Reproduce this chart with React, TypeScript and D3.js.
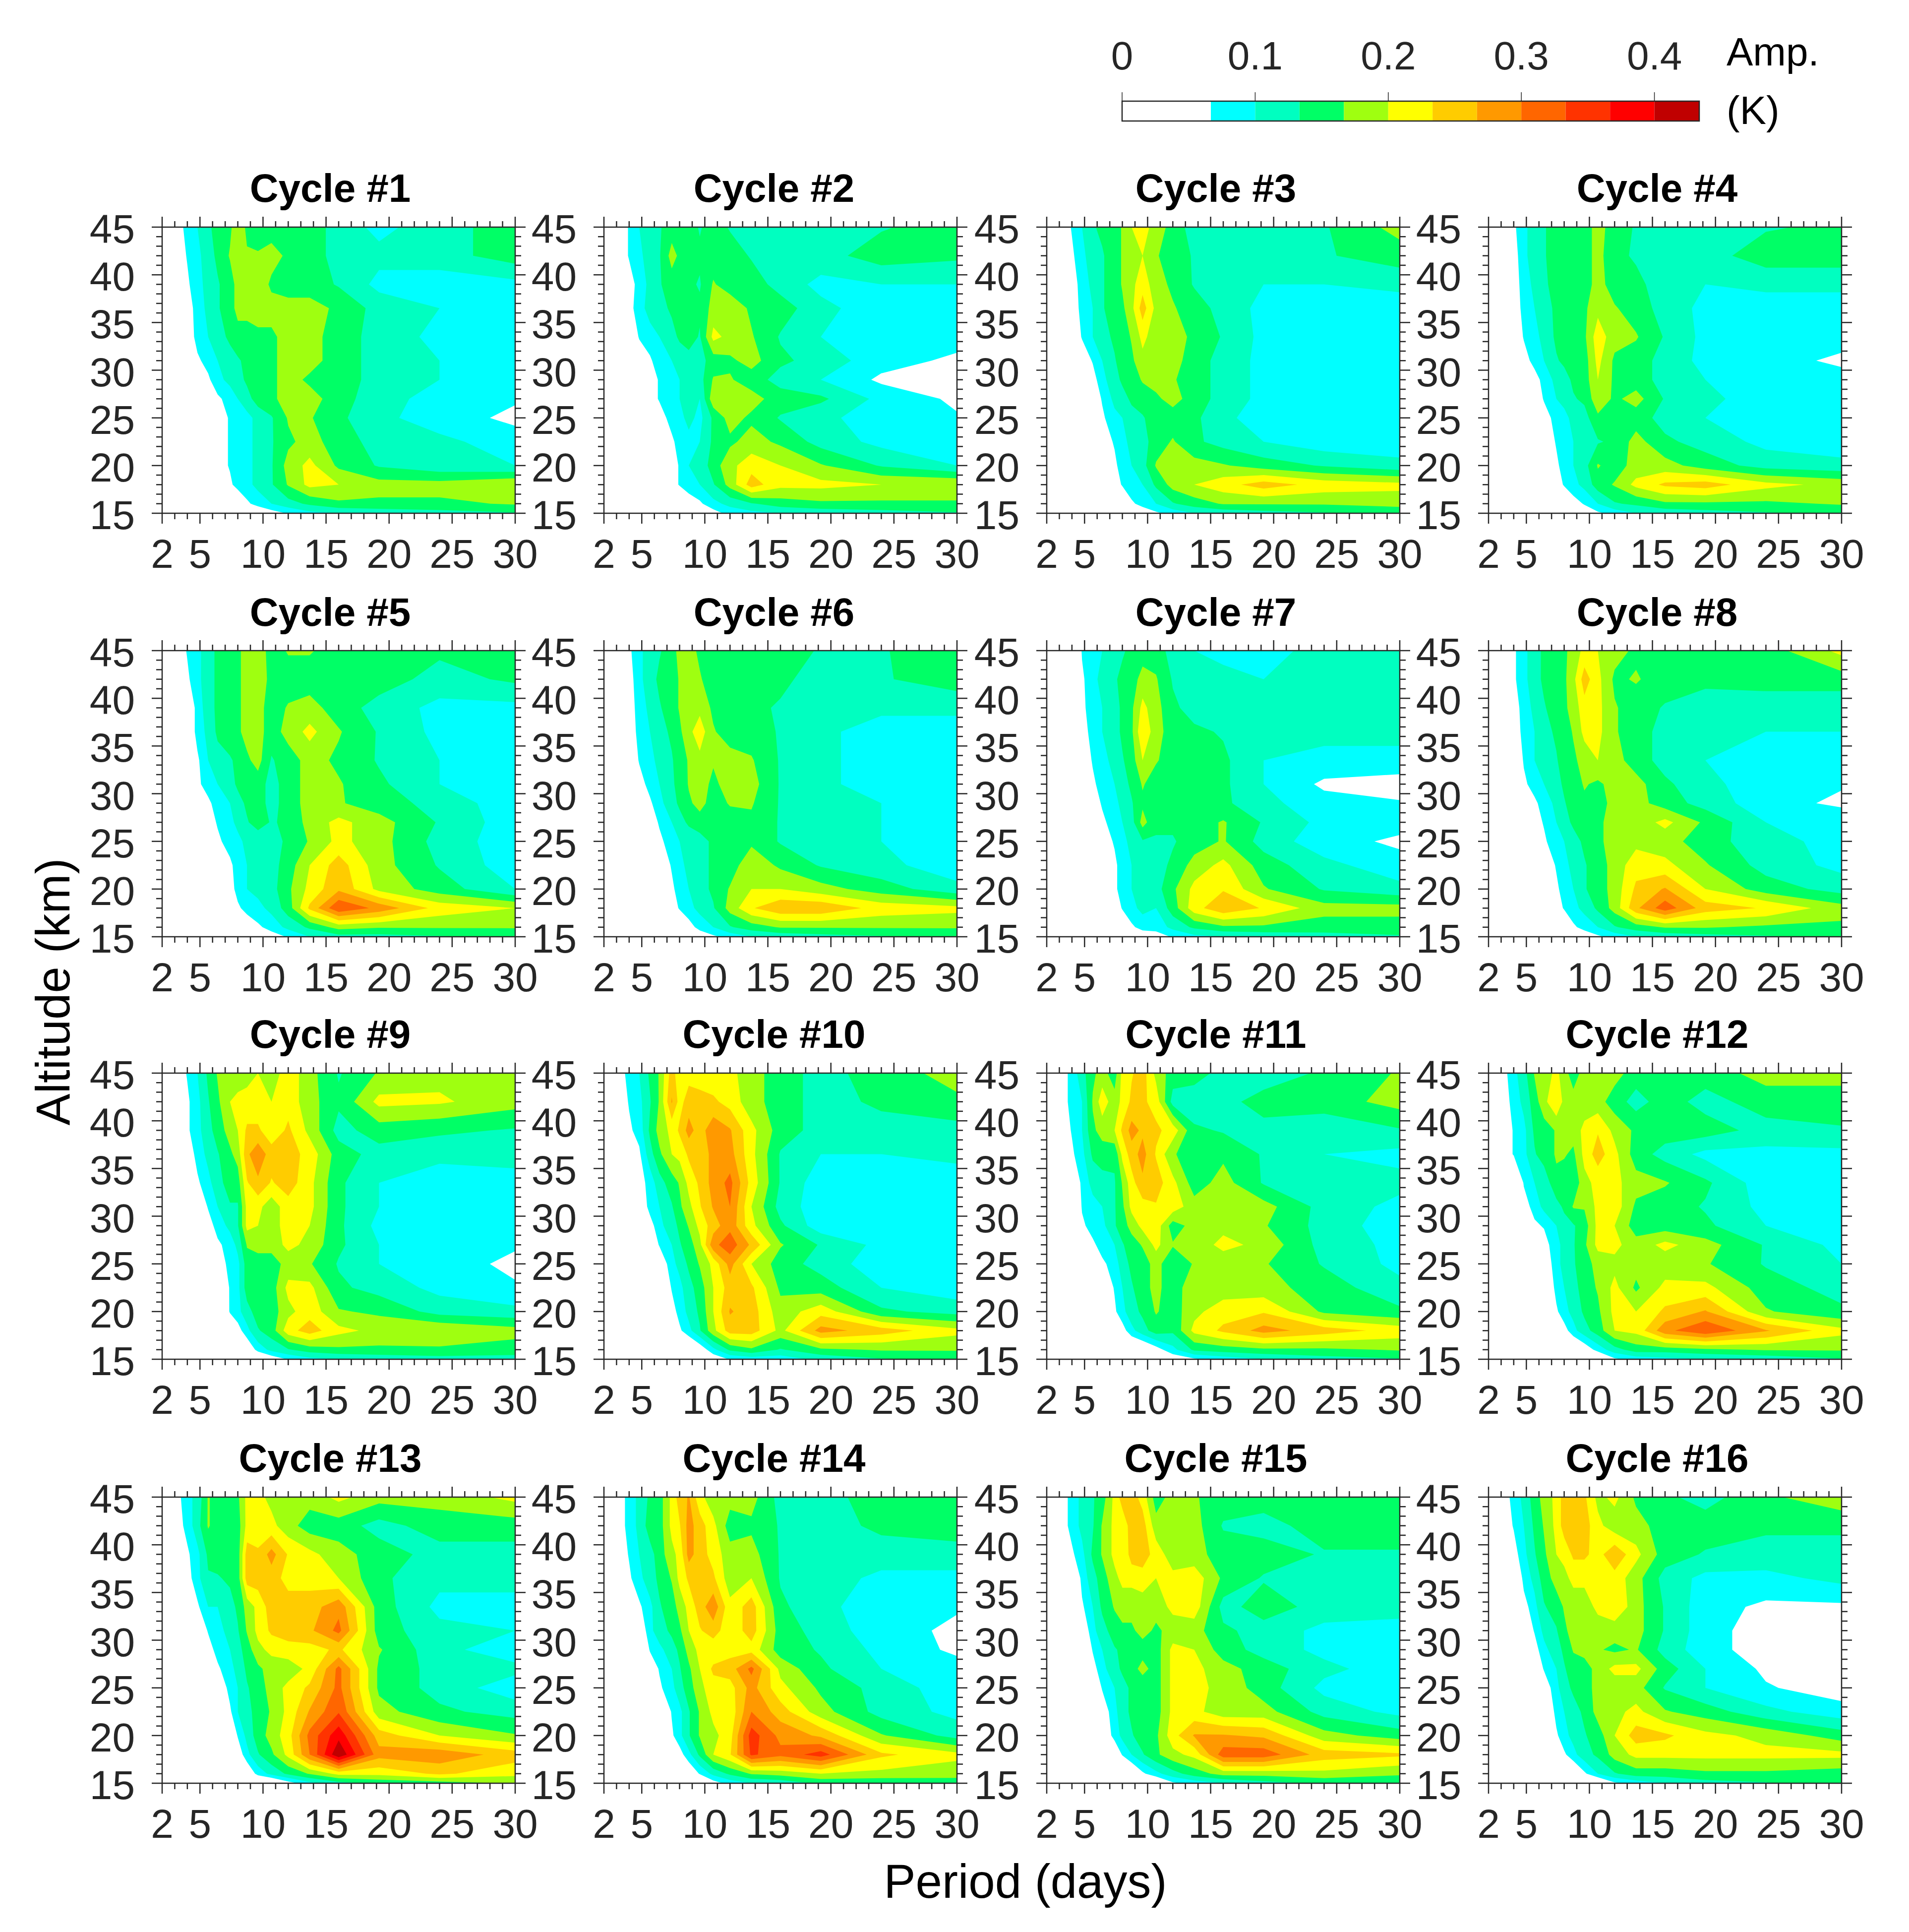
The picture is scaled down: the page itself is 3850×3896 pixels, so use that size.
import React from "react";
import * as d3 from "d3";

// Amplitudes are in hundredths of a kelvin. Rows run from the top altitude down; columns follow periods.
const periods = [2, 4, 4.8, 5.65, 6.4, 7.38, 8, 8.73, 9.6, 10.67, 12, 13.7, 16, 19.2, 24, 30];
const altitudes = [45, 42, 39, 36.5, 33.5, 31, 29, 27, 25, 22.5, 20, 18, 16, 15];

const cycle1 = [
  [0,8,10,13,14,16,19,16,15,15,15,15,12,9,12,15],
  [0,7,9,12,14,17,18,17,17,18,16,15,12,11,12,15],
  [0,6,9,11,13,15,18,18,19,16,15,15,13,9,8,9],
  [0,5,8,11,13,15,18,18,20,18,18,18,16,12,10,8],
  [0,4,8,10,12,14,15,15,15,16,18,18,15,12,9,8],
  [0,3,6,8,10,12,13,14,15,16,18,18,15,12,10,8],
  [0,2,4,6,9,11,12,14,15,16,18,16,15,12,10,8],
  [0,1,3,5,6,8,10,12,15,16,18,18,15,11,9,7],
  [0,0,1,3,5,7,8,9,11,13,17,17,14,11,8,6],
  [0,0,1,3,5,7,8,9,11,13,16,18,15,12,11,8],
  [0,0,1,3,5,7,8,9,11,13,18,21,16,13,11,10],
  [0,0,0,2,4,6,8,9,11,13,17,21,20,18,18,20],
  [0,0,0,0,0,1,3,6,8,10,12,14,16,16,16,17],
  [0,0,0,0,0,0,0,1,3,5,7,9,10,11,12,13],
];
const cycle2 = [
  [0,7,10,12,13,15,16,15,13,15,13,12,12,12,13,15],
  [0,7,9,12,13,18,16,15,14,15,15,13,12,12,15,14],
  [0,5,8,11,13,15,15,14,13,17,15,15,12,9,10,10],
  [0,5,9,11,12,14,15,15,14,18,19,16,15,11,8,8],
  [0,3,7,9,10,12,14,15,13,21,19,17,13,10,8,8],
  [0,2,4,6,9,10,11,12,12,15,16,18,14,12,8,6],
  [0,0,2,5,7,9,10,11,12,17,17,15,12,10,6,5],
  [0,0,2,5,7,9,10,11,10,19,18,18,15,14,9,6],
  [0,0,1,3,5,8,9,11,9,14,18,16,13,11,8,7],
  [0,0,0,1,3,6,8,9,10,14,16,18,16,12,9,8],
  [0,0,0,0,2,5,7,10,11,15,19,22,20,17,13,10],
  [0,0,0,0,2,5,7,9,10,13,18,25,21,21,20,20],
  [0,0,0,0,0,0,2,4,6,9,11,13,15,16,16,16],
  [0,0,0,0,0,0,0,0,3,5,8,9,10,11,12,13],
];
const cycle3 = [
  [0,7,10,13,14,15,17,20,21,19,15,12,11,11,13,18],
  [0,6,9,12,13,15,17,19,20,17,15,13,11,11,13,15],
  [0,5,8,11,13,15,17,19,22,18,16,13,11,10,10,11],
  [0,4,8,10,13,15,16,19,25,19,17,15,12,9,8,8],
  [0,3,7,10,12,14,15,17,21,18,18,16,13,9,8,8],
  [0,2,4,7,10,13,15,16,19,18,18,15,12,9,8,8],
  [0,0,3,5,9,12,14,15,17,18,17,15,12,9,8,8],
  [0,0,2,4,7,11,12,14,15,16,18,15,12,9,8,8],
  [0,0,1,3,6,9,10,12,13,15,15,14,11,8,8,8],
  [0,0,0,2,5,7,9,11,12,15,17,14,12,10,8,8],
  [0,0,0,1,3,6,8,10,12,17,18,18,17,15,13,11],
  [0,0,0,0,2,5,7,9,10,14,18,20,22,25,22,21],
  [0,0,0,0,0,1,3,6,8,10,13,15,17,17,17,18],
  [0,0,0,0,0,0,0,2,4,6,8,10,11,12,13,14],
];
const cycle4 = [
  [0,6,9,12,13,15,15,15,15,18,15,13,12,12,13,14],
  [0,5,9,12,13,15,15,15,15,18,14,13,12,12,15,15],
  [0,5,8,11,13,14,15,15,15,18,15,14,12,10,11,11],
  [0,4,8,10,12,14,15,15,16,19,17,15,12,9,8,8],
  [0,3,7,9,11,14,15,15,16,22,18,17,13,9,8,8],
  [0,2,5,8,10,13,14,15,15,21,16,15,12,9,8,6],
  [0,0,3,5,8,11,12,14,15,20,16,15,12,10,8,8],
  [0,0,2,4,7,10,11,13,14,19,16,18,13,11,8,8],
  [0,0,1,3,5,8,9,11,12,16,14,15,12,10,8,7],
  [0,0,0,2,4,7,8,10,11,13,14,18,14,12,9,8],
  [0,0,0,1,3,6,8,10,12,17,15,18,18,15,12,11],
  [0,0,0,0,2,5,7,9,11,15,17,21,24,25,21,19],
  [0,0,0,0,0,1,3,5,7,10,13,14,16,16,16,17],
  [0,0,0,0,0,0,0,1,4,6,8,10,11,12,13,14],
];
const cycle5 = [
  [0,7,9,12,14,15,16,18,19,15,17,17,15,14,14,15],
  [0,6,9,12,14,15,16,18,20,15,15,15,15,15,12,14],
  [0,3,8,12,14,15,16,18,18,15,17,18,15,12,9,9],
  [0,3,8,11,14,15,16,18,18,15,18,21,17,13,9,8],
  [0,2,6,10,12,13,14,16,18,13,15,18,16,13,10,8],
  [0,2,6,8,10,12,14,15,15,12,15,18,17,14,10,8],
  [0,0,3,6,8,10,12,14,15,12,15,18,17,15,12,8],
  [0,0,2,5,7,9,11,13,15,13,14,18,21,18,13,8],
  [0,0,1,3,6,8,9,11,11,12,14,17,21,18,12,8],
  [0,0,0,1,3,6,8,10,11,12,15,20,25,18,13,8],
  [0,0,0,1,3,5,8,10,11,12,16,21,26,19,15,10],
  [0,0,0,0,2,4,6,8,9,11,15,24,33,29,22,20],
  [0,0,0,0,0,0,2,4,6,8,11,14,18,17,17,17],
  [0,0,0,0,0,0,0,0,2,5,7,10,12,12,13,14],
];
const cycle6 = [
  [0,6,9,12,13,15,18,18,16,15,15,15,15,13,13,16],
  [0,5,9,12,14,15,17,18,17,15,15,14,14,12,13,15],
  [0,5,8,11,13,15,17,18,19,16,15,14,13,12,11,11],
  [0,4,8,10,12,14,16,19,22,17,15,15,13,11,8,8],
  [0,3,7,9,11,13,15,17,19,17,18,17,13,11,8,8],
  [0,2,5,8,10,13,14,17,18,16,18,18,13,11,8,8],
  [0,0,3,6,9,12,14,16,18,15,17,17,13,11,10,9],
  [0,0,2,5,7,10,12,14,15,14,15,16,13,11,10,9],
  [0,0,1,3,6,8,10,11,12,14,15,16,13,11,10,8],
  [0,0,0,2,4,7,9,11,12,14,15,19,16,13,11,8],
  [0,0,0,1,3,6,8,10,12,14,17,20,20,18,15,11],
  [0,0,0,0,2,5,7,9,11,13,18,23,26,26,22,21],
  [0,0,0,0,0,1,3,5,8,10,13,15,17,17,17,17],
  [0,0,0,0,0,0,0,2,4,6,8,10,11,12,13,14],
];
const cycle7 = [
  [0,0,7,9,10,11,13,14,15,15,12,10,9,9,11,12],
  [0,0,6,9,11,13,14,15,18,17,13,12,11,10,11,12],
  [0,0,6,8,10,12,14,16,21,18,14,12,12,10,11,11],
  [0,0,5,8,10,12,14,16,23,18,15,14,13,10,11,11],
  [0,0,4,7,9,11,13,15,20,17,15,15,14,10,9,9],
  [0,0,3,6,8,10,12,14,17,15,14,15,14,10,6,5],
  [0,0,2,5,7,9,11,13,16,15,14,15,14,11,8,7],
  [0,0,2,4,6,8,10,12,18,14,14,15,17,13,9,8],
  [0,0,1,3,5,7,9,11,13,13,13,15,17,12,8,6],
  [0,0,0,2,4,6,8,10,12,12,14,18,21,15,11,8],
  [0,0,0,1,3,6,8,10,13,12,16,21,23,17,13,11],
  [0,0,0,0,2,4,7,9,11,10,15,22,26,23,18,18],
  [0,0,0,0,0,1,3,6,8,8,11,14,16,16,15,15],
  [0,0,0,0,0,0,0,1,4,5,7,9,10,11,12,13],
];
const cycle8 = [
  [0,6,9,12,14,15,16,18,21,20,18,16,15,15,15,21],
  [0,6,9,12,14,15,16,19,25,21,16,17,15,14,15,15],
  [0,5,8,11,13,15,16,18,22,21,17,15,13,12,11,11],
  [0,4,8,10,12,14,15,17,21,21,17,15,12,10,10,10],
  [0,3,7,10,12,13,15,16,18,20,18,15,12,10,8,8],
  [0,3,6,8,10,12,14,15,17,16,18,18,14,11,8,7],
  [0,0,3,6,8,11,13,15,16,15,18,18,15,12,8,6],
  [0,0,2,5,7,10,12,14,16,16,18,18,21,16,10,9],
  [0,0,1,3,6,9,10,12,14,16,18,19,18,15,11,9],
  [0,0,0,2,4,7,9,11,13,15,18,22,21,17,12,9],
  [0,0,0,1,3,6,8,10,13,15,18,24,27,20,15,12],
  [0,0,0,0,2,5,7,9,11,14,18,26,32,25,23,18],
  [0,0,0,0,0,1,3,6,8,10,13,15,17,17,16,16],
  [0,0,0,0,0,0,0,2,4,6,8,10,11,12,13,14],
];
const cycle9 = [
  [0,7,10,14,17,18,18,19,20,18,22,18,13,17,19,19],
  [0,6,9,13,16,20,21,21,21,20,22,18,14,21,20.5,18],
  [0,6,9,12,15,18,20,24,24,21,24,19,12,15,14,13],
  [0,4,8,11,13,16,18,26,29,25,25,22,15,12,11,12],
  [0,3,6,9,12,15,15,23,26,23,25,21,14,10,8,8],
  [0,0,3,7,10,13,13,21,21,18,22,21,14,10,8,8],
  [0,0,2,5,8,11,13,21,20,18,22,20,14,9,8,8],
  [0,0,1,3,6,8,11,17,18,18,21,19,14,10,8,7],
  [0,0,0,1,4,8,9,15,15,15,18,17,13,10,8,6],
  [0,0,0,1,2,7,9,15,15,15,21,21,14,12,9,7],
  [0,0,0,0,1,7,9,12,15,15,19,22,17,16,12,11],
  [0,0,0,0,0,3,5,9,13,15,22,25,21,19,20,18],
  [0,0,0,0,0,0,1,3,8,11,13,15,16,16,16,15],
  [0,0,0,0,0,0,0,0,1,4,7,9,10,11,12,12],
];
const cycle10 = [
  [0,8,10,14,17,25,21,22,21,21,21,18,15,12,15,18],
  [0,7,9,13,17,27,22,25,25,24,22,18,15,12,14,16],
  [0,6,8,14,18,21,24,28,25,29,27,21,15,12,12,12],
  [0,3,6,12,16,20,21,24,26,27,28,21,13,10,10,11],
  [0,0,5,8,12,15,17,21,24,28,31,22,13,8,8,8],
  [0,0,3,8,10,13,16,19,23,27,30,20,12,8,8,7],
  [0,0,1,5,9,12,14,17,21,25,29,21,14,8,8,7],
  [0,0,1,3,7,10,13,15,19,29,32,26,17,13,9,8],
  [0,0,0,1,3,9,11,14,17,21,28,20,15,12,8,7],
  [0,0,0,0,1,7,9,12,15,20,25,24,16,15,10,8],
  [0,0,0,0,0,5,8,11,14,20,27,25,18,22,14,12],
  [0,0,0,0,0,1,6,9,13,19,25,25,19,28,25,21],
  [0,0,0,0,0,0,0,1,4,9,14,16,13,16,17,17],
  [0,0,0,0,0,0,0,0,1,4,7,8,8,11,13,14],
];
const cycle11 = [
  [0,8,12,16,18,15,21,23,25,19,15,15,12,11,14,17],
  [0,8,10,17,22,18,21,24,24,22,12,11,12,15,15,18],
  [0,7,10,16,18,20,24,28,26,24,22,14,13,12,11,13],
  [0,6,9,14,15,14,21,25,28,23,17,15,16,13,10,9],
  [0,0,8,11,12,13,17,22,26,25,21,15,18,13,11,11],
  [0,0,7,9,10,13,16,21,22,23,22,18,18,18,12,9],
  [0,0,6,8,9,13,15,18,21,22,15,18,19,17,12,8],
  [0,0,3,6,8,10,13,15,17,21,17,18,21,19,12,9],
  [0,0,1,4,6,8,12,14,15,18,14,17,18,17,13,9],
  [0,0,0,1,3,7,10,13,15,18,14,20,18,18,15,11],
  [0,0,0,0,1,6,9,12,14,17,15,19,22,23,16,14],
  [0,0,0,0,0,1,5,9,12,15,14,21,24,28,25,22],
  [0,0,0,0,0,0,0,1,2,5,9,14,15,16,16,17],
  [0,0,0,0,0,0,0,0,0,5,4,6,8,10,12,13],
];
const cycle12 = [
  [0,9,12,17,18,21,18,15,18,18,18,15,14,15,18,18],
  [0,8,11,15,19,23,19,18,18,18,15,12,15,12,15,15],
  [0,7,9,14,15,17,18,18,21,23,19,16,15,15,12,13],
  [0,7,9,13,15,17,17,16,21,25,21,15,12,9,9,9],
  [0,0,7,10,11,16,15,14,19,21,21,18,17,14,8,8],
  [0,0,5,8,11,12,14,17,17,21,22,16,15,13,9,8],
  [0,0,2,6,7,10,12,13,15,21,20,15,15,14,10,8],
  [0,0,1,3,5,9,11,13,16,21,21,18,21,18,13,9],
  [0,0,0,1,3,9,11,13,15,18,19,18,18,17,13,10],
  [0,0,0,0,1,8,10,12,15,17,21,16,21,21,15,12],
  [0,0,0,0,0,6,9,11,14,16,21,20,24,27,17,14],
  [0,0,0,0,0,1,5,9,12,15,20,21,29,33,27,21],
  [0,0,0,0,0,0,0,1,4,8,12,15,15,16,17,17],
  [0,0,0,0,0,0,0,0,0,1,6,8,9,10,11,13],
];
const cycle13 = [
  [0,9,11,17,15,15,16,21,21,19,18,18,21,18,18,21],
  [0,8,12,17,15,15,15,21,21,21,18,15,15,12,15,15],
  [0,6,9,14,15,14,15,25,24,28,23,21,18,15,12,12],
  [0,5,9,13,13,14,15,25,25,25,22,22,20,14,11,11],
  [0,0,6,10,10,12,14,18,21,25,25,25,29,15,9,9],
  [0,0,3,7,9,11,13,17,21,24,25,26,31,15,11,10],
  [0,0,1,5,8,10,12,15,19,21,22,22,24,17,11,8],
  [0,0,0,3,6,9,11,14,16,18,18,21,31,16,12,11],
  [0,0,0,1,3,8,10,13,15,18,21,24,31,16,12,8],
  [0,0,0,0,1,6,10,12,15,17,21,27,33,18,14,12],
  [0,0,0,0,0,2,7,11,15,18,22,31,39,25,20,17],
  [0,0,0,0,0,1,4,9,13,16,21,30,43,28,29,25],
  [0,0,0,0,0,0,0,3,8,11,14,17,21,21,24,21],
  [0,0,0,0,0,0,0,0,0,1,5,9,12,14,15,17],
];
const cycle14 = [
  [0,8,11,14,15,21,25,27,21,18,18,18,12,12,15,15],
  [0,8,11,15,15,21,23,28,25,21,15,16,13,12,14,15],
  [0,7,10,12,15,19,21,28,25,22,18,18,13,12,12,12],
  [0,6,9,12,14,17,21,24,25,24,18,20,13,12,9,9],
  [0,0,6,9,13,15,18,21,25,29,21,25,14,11,8,7],
  [0,0,3,9,12,14,16,20,23,25,21,25,15,12,8,6],
  [0,0,1,7,9,12,14,18,21,21,22,22,15,13,9,6],
  [0,0,0,4,7,10,13,16,20,24,25,31,19,14,10,8],
  [0,0,0,1,6,9,12,15,19,22,22,28,21,16,12,8],
  [0,0,0,0,1,7,9,13,17,21,21,30,25,18,12,9],
  [0,0,0,0,0,6,9,13,17,19,22,35,29,26,17,12],
  [0,0,0,0,0,3,5,9,14,20,23,34,31,35,24,21],
  [0,0,0,0,0,0,0,3,7,11,14,17,18,20,19,18],
  [0,0,0,0,0,0,0,0,0,5,8,10,11,14,14,15],
];
const cycle15 = [
  [0,8,11,13,15,21,25,25,22,15,18,17,15,15,15,15],
  [0,8,11,13,17,21,21,25,25,18,18,18,13,12,15,15],
  [0,6,9,14,17,21,20,25,25,22,18,18,15,15,13,13],
  [0,0,8,12,15,19,21,21,22,20,21,22,16,13,12,12],
  [0,0,6,10,14,17,18,18,18,18,21,22,12,15,12,11],
  [0,0,3,9,12,15,16,16,18,16,18,18,14,12,9,9],
  [0,0,1,7,10,13,14,15,15,15,21,20,15,12,9,7],
  [0,0,0,5,9,12,14,15,18,15,21,21,18,15,11,8],
  [0,0,0,2,7,10,12,14,14,15,21,21,19,15,9,8],
  [0,0,0,1,4,9,12,14,15,15,21,21,18,18,12,9],
  [0,0,0,0,3,8,11,13,15,16,22,27,27,26,18,15],
  [0,0,0,0,0,3,7,10,13,16,19,21,32,32,25,24],
  [0,0,0,0,0,0,0,2,6,9,12,15,18,18,19,17],
  [0,0,0,0,0,0,0,0,0,1,6,8,10,12,14,15],
];
const cycle16 = [
  [0,8,11,15,18,21,25,25,24,19,21,16,14,12,16,19],
  [0,7,10,14,17,21,25,26,25,21,18,18,15,15,14,14],
  [0,5,9,13,16,20,21,24,24,22,26,21,15,13,12,12],
  [0,0,8,11,15,18,19,21,21,21,22,18,12,9,9,11],
  [0,0,5,9,13,15,17,18,18,21,23,18,13,8,6,6],
  [0,0,3,7,11,13,16,18,18,18,18,18,13,8,5,5],
  [0,0,1,5,9,12,14,17,18,17,16,17,12,8,5,5],
  [0,0,0,3,7,10,13,15,15,18,21,21,15,10,6,5],
  [0,0,0,1,4,9,12,14,15,18,18,18,13,10,7,5],
  [0,0,0,0,1,8,10,12,14,18,19,21,17,15,11,8],
  [0,0,0,0,0,6,9,11,13,15,20,25,24,21,19,15],
  [0,0,0,0,0,3,6,9,12,14,18,21,21,21,21,21],
  [0,0,0,0,0,0,0,2,6,10,13,15,15,16,16,15],
  [0,0,0,0,0,0,0,0,0,1,6,8,10,12,13,15],
];
const cycles = [cycle1, cycle2, cycle3, cycle4, cycle5, cycle6, cycle7, cycle8, cycle9, cycle10, cycle11, cycle12, cycle13, cycle14, cycle15, cycle16];

const levels = [0.0667, 0.1, 0.1333, 0.1667, 0.2, 0.2333, 0.2667, 0.3, 0.3333, 0.3667, 0.4];
const levelColors = ["#00ffff", "#00ffc0", "#00ff66", "#9fff10", "#ffff00", "#ffcc00", "#ff9900", "#ff6600", "#ff3300", "#ff0000", "#c00000"];
const barTicks = [0, 0.1, 0.2, 0.3, 0.4];
const periodTicks = [2, 5, 10, 15, 20, 25, 30];
const altitudeTicks = [15, 20, 25, 30, 35, 40, 45];

const panelLefts = [327, 1218, 2111, 3002];
const panelTops = [458, 1312, 2164, 3019];
const titleCenters = [666, 1561, 2452, 3342];
const titleBaselines = [407, 1262, 2113, 2968];
const PW = 712;
const PH = 577;
const INK = "#262626";
const FONT = "'Liberation Sans', Arial, sans-serif";

const range = (a: number, b: number) => d3.range(a, b + 1);

function Panel({ data, left, top, index, titleX, titleY }: any) {
  const x = d3.scaleLinear().domain([2, 30]).range([left, left + PW]);
  const y = d3.scaleLinear().domain([15, 45]).range([top + PH, top]);
  const nx = periods.length;
  const ny = altitudes.length;
  const values: number[] = [];
  for (let r = 0; r < ny; r++) for (let c = 0; c < nx; c++) values.push((data[r][c] ?? 0) / 100);
  const colToPeriod = d3.scaleLinear().domain(periods.map((_, i) => i)).range(periods).clamp(true);
  const rowToAlt = d3.scaleLinear().domain(altitudes.map((_, i) => i)).range(altitudes).clamp(true);
  const contours = d3.contours().size([nx, ny]).smooth(true).thresholds(levels)(values);
  const toPath = (c: any) =>
    c.coordinates
      .map((poly: number[][][]) =>
        poly
          .map((ring) => "M" + ring.map((p) => `${x(colToPeriod(p[0] - 0.5)).toFixed(1)},${y(rowToAlt(p[1] - 0.5)).toFixed(1)}`).join("L") + "Z")
          .join("")
      )
      .join("");
  const bottom = top + PH;
  const right = left + PW;
  return (
    <g>
      <rect x={left} y={top} width={PW} height={PH} fill="#fff" />
      {contours.map((c: any, i: number) => (
        <path key={i} d={toPath(c)} fill={levelColors[i]} fillRule="evenodd" stroke="none" />
      ))}
      <rect x={left} y={top} width={PW} height={PH} fill="none" stroke={INK} strokeWidth={2.5} />
      {range(2, 30).map((p) => {
        const major = periodTicks.includes(p);
        const len = major ? 21 : 12;
        return (
          <g key={p} stroke={INK} strokeWidth={2.5}>
            <line x1={x(p)} x2={x(p)} y1={top} y2={top - len} />
            <line x1={x(p)} x2={x(p)} y1={bottom} y2={bottom + len} />
          </g>
        );
      })}
      {range(15, 45).map((a) => {
        const major = altitudeTicks.includes(a);
        const len = major ? 21 : 12;
        return (
          <g key={a} stroke={INK} strokeWidth={2.5}>
            <line x1={left} x2={left - len} y1={y(a)} y2={y(a)} />
            <line x1={right} x2={right + len} y1={y(a)} y2={y(a)} />
          </g>
        );
      })}
      {periodTicks.map((p) => (
        <text key={p} x={x(p)} y={bottom + 110} fontSize={82} textAnchor="middle" fill={INK}>
          {p}
        </text>
      ))}
      {altitudeTicks.map((a) => (
        <text key={a} x={left - 55} y={y(a) + 32} fontSize={82} textAnchor="end" fill={INK}>
          {a}
        </text>
      ))}
      <text x={titleX} y={titleY} fontSize={80} fontWeight="bold" textAnchor="middle" fill="#000">
        {`Cycle #${index + 1}`}
      </text>
    </g>
  );
}

function ColorBar() {
  const b = d3.scaleLinear().domain([0, 0.4337]).range([2263, 3427]);
  const stops = [...levels, 0.4337];
  return (
    <g>
      <rect x={b(0)} y={204} width={b(0.4337) - b(0)} height={40} fill="#fff" />
      {levelColors.map((c, i) => (
        <rect key={c} x={b(stops[i])} y={204} width={b(stops[i + 1]) - b(stops[i])} height={40} fill={c} />
      ))}
      <rect x={b(0)} y={204} width={b(0.4337) - b(0)} height={40} fill="none" stroke={INK} strokeWidth={2.5} />
      {barTicks.map((t) => (
        <g key={t}>
          <line x1={b(t)} x2={b(t)} y1={204} y2={186} stroke={INK} strokeWidth={1.5} />
          <text x={b(t)} y={140} fontSize={80} textAnchor="middle" fill={INK}>
            {t}
          </text>
        </g>
      ))}
      <text x={3482} y={132} fontSize={80} fill="#000">Amp.</text>
      <text x={3482} y={250} fontSize={80} fill="#000">(K)</text>
    </g>
  );
}

export default function App() {
  return (
    <svg
      width={3850}
      height={3896}
      viewBox="0 0 3850 3896"
      style={{ position: "absolute", left: 0, top: 0, background: "#fff", fontFamily: FONT }}
    >
      <ColorBar />
      {cycles.map((data, i) => (
        <Panel
          key={i}
          data={data}
          index={i}
          left={panelLefts[i % 4]}
          top={panelTops[Math.floor(i / 4)]}
          titleX={titleCenters[i % 4]}
          titleY={titleBaselines[Math.floor(i / 4)]}
        />
      ))}
      <text x={2068} y={3827} fontSize={96} textAnchor="middle" fill="#000">Period (days)</text>
      <text transform="translate(140,2000) rotate(-90)" fontSize={96} textAnchor="middle" fill="#000">Altitude (km)</text>
    </svg>
  );
}
